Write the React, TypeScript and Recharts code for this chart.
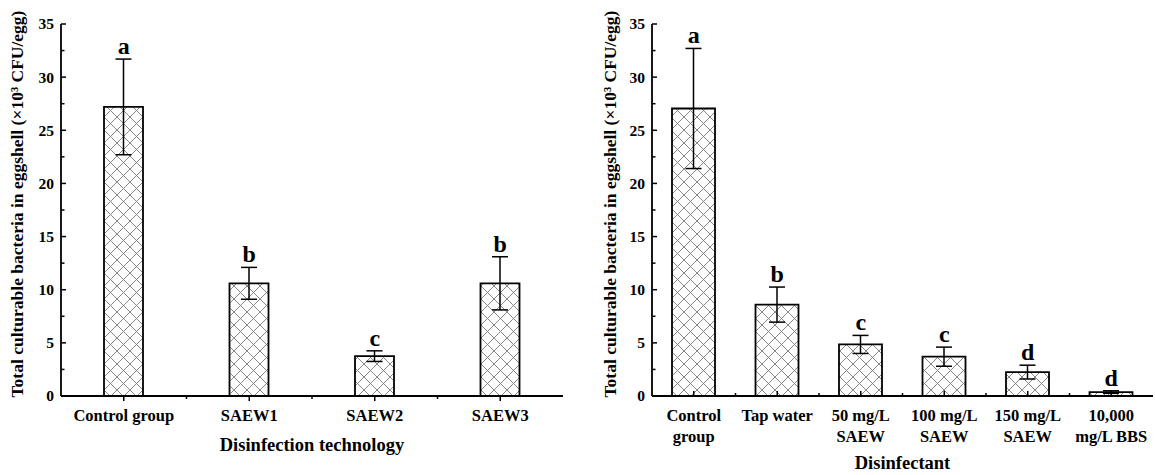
import React from 'react';
import { ComposedChart, Bar, Line, XAxis, YAxis, ErrorBar, LabelList, Label } from 'recharts';

const techCategories = ['Control group', 'SAEW1', 'SAEW2', 'SAEW3'];
const techMeans = [27.2, 10.6, 3.75, 10.6];
const techErrors = [4.5, 1.5, 0.5, 2.5];
const techLetters = ['a', 'b', 'c', 'b'];

const disCategories = ['Control\ngroup', 'Tap water', '50 mg/L\nSAEW', '100 mg/L\nSAEW', '150 mg/L\nSAEW', '10,000\nmg/L BBS'];
const disMeans = [27.05, 8.6, 4.85, 3.7, 2.25, 0.37];
const disErrors = [5.65, 1.65, 0.85, 0.9, 0.65, 0.12];
const disLetters = ['a', 'b', 'c', 'c', 'd', 'd'];

const yTicks = [0, 2.5, 5, 7.5, 10, 12.5, 15, 17.5, 20, 22.5, 25, 27.5, 30, 32.5, 35];
const yTitle = 'Total culturable bacteria in eggshell (×10³ CFU/egg)';

const FONT = '"Liberation Serif", "Times New Roman", serif';
const AXIS = { stroke: '#000', strokeWidth: 1.8 };

interface PanelProps {
  categories: string[];
  means: number[];
  errors: number[];
  letters: string[];
  xTitle: string;
  width: number;
  marginLeft: number;
  marginRight: number;
  yAxisWidth: number;
  barSize: number;
  titleX: number;
  xTitleDy: number;
  xTicksUp: boolean;
}

const Panel: React.FC<PanelProps> = ({
  categories, means, errors, letters, xTitle, width, marginLeft, marginRight,
  yAxisWidth, barSize, titleX, xTitleDy, xTicksUp,
}) => {
  const data = categories.map((name, i) => ({
    name,
    mean: means[i],
    err: errors[i],
    top: means[i] + errors[i],
    letter: letters[i],
  }));
  const plotW = width - marginLeft - marginRight - yAxisWidth;
  const band = plotW / categories.length;

  const renderYTick = (p: any) => {
    const v = p.payload.value;
    const major = v % 5 === 0;
    return (
      <g>
        <line x1={p.x} x2={p.x + (major ? 5 : 3.5)} y1={p.y} y2={p.y} stroke="#000" strokeWidth={1.5} />
        {major && (
          <text x={p.x - 7} y={p.y} dy="0.35em" textAnchor="end" fontFamily={FONT} fontWeight="bold" fontSize={15.5} fill="#000">
            {v}
          </text>
        )}
      </g>
    );
  };

  const renderXTick = (p: any) => {
    const lines = String(p.payload.value).split('\n');
    const last = p.index === categories.length - 1;
    const dir = xTicksUp ? -1 : 1;
    return (
      <g>
        <line x1={p.x} x2={p.x} y1={p.y} y2={p.y + dir * 5} stroke="#000" strokeWidth={1.5} />
        {!last && <line x1={p.x + band / 2} x2={p.x + band / 2} y1={p.y} y2={p.y + dir * 3} stroke="#000" strokeWidth={1.5} />}
        {lines.map((t, i) => (
          <text key={i} x={p.x} y={p.y + 19 + i * 21} dy="0.35em" textAnchor="middle" fontFamily={FONT} fontWeight="bold" fontSize={16.5} fill="#000">
            {t}
          </text>
        ))}
      </g>
    );
  };

  const renderYTitle = (p: any) => {
    const vb = p.viewBox;
    const cx = titleX;
    const cy = vb.y + vb.height / 2 - 6;
    return (
      <text x={cx} y={cy} transform={`rotate(-90, ${cx}, ${cy})`} textAnchor="middle" dominantBaseline="central" fontFamily={FONT} fontWeight="bold" fontSize={17.5} fill="#000">
        {yTitle}
      </text>
    );
  };

  const renderXTitle = (p: any) => {
    const vb = p.viewBox;
    return (
      <text x={vb.x + vb.width / 2} y={vb.y + xTitleDy} dy="0.35em" textAnchor="middle" fontFamily={FONT} fontWeight="bold" fontSize={18.5} fill="#000">
        {xTitle}
      </text>
    );
  };

  const renderLetter = (p: any) => (
    <text x={p.x} y={p.y - 5} textAnchor="middle" fontFamily={FONT} fontWeight="bold" fontSize={24} fill="#000">
      {p.value}
    </text>
  );

  return (
    <ComposedChart
      width={width}
      height={475}
      data={data}
      margin={{ top: 24, right: marginRight, left: marginLeft, bottom: 0 }}
    >
      <XAxis xAxisId="x" dataKey="name" height={79} interval={0} tickSize={0} tickMargin={0} tickLine={false} axisLine={AXIS} tick={renderXTick}>
        <Label content={renderXTitle} />
      </XAxis>
      <XAxis xAxisId="top" dataKey="name" orientation="top" height={0} tick={false} tickLine={false} axisLine={AXIS} />
      <YAxis yAxisId="y" type="number" domain={[0, 35]} ticks={yTicks} interval={0} width={yAxisWidth} tickSize={0} tickMargin={0} tickLine={false} axisLine={AXIS} tick={renderYTick}>
        <Label content={renderYTitle} />
      </YAxis>
      <YAxis yAxisId="right" orientation="right" type="number" domain={[0, 35]} width={0} tick={false} tickLine={false} axisLine={AXIS} />
      <Bar xAxisId="x" yAxisId="y" dataKey="mean" barSize={barSize} fill="url(#xhatch)" stroke="#000" strokeWidth={1.8} isAnimationActive={false}>
        <ErrorBar dataKey="err" direction="y" width={8} stroke="#000" strokeWidth={1.5} isAnimationActive={false} />
      </Bar>
      <Line xAxisId="x" yAxisId="y" dataKey="top" stroke="none" dot={false} activeDot={false} isAnimationActive={false}>
        <LabelList dataKey="letter" content={renderLetter} />
      </Line>
    </ComposedChart>
  );
};

export default function App() {
  return (
    <div style={{ position: 'absolute', left: 0, top: 0, width: 1155, height: 475, background: '#fff' }}>
      <svg width={0} height={0} style={{ position: 'absolute' }}>
        <defs>
          <pattern id="xhatch" patternUnits="userSpaceOnUse" width={13} height={13}>
            <rect width={13} height={13} fill="#fff" />
            <path d="M0,0 L13,13 M13,0 L0,13" stroke="#7a7a7a" strokeWidth={0.9} />
          </pattern>
        </defs>
      </svg>
      <div style={{ display: 'flex' }}>
        <Panel
          categories={techCategories}
          means={techMeans}
          errors={techErrors}
          letters={techLetters}
          xTitle="Disinfection technology"
          width={580}
          marginLeft={21}
          marginRight={17}
          yAxisWidth={40}
          barSize={39}
          titleX={17}
          xTitleDy={49}
          xTicksUp={false}
        />
        <Panel
          categories={disCategories}
          means={disMeans}
          errors={disErrors}
          letters={disLetters}
          xTitle="Disinfectant"
          width={575}
          marginLeft={22}
          marginRight={2}
          yAxisWidth={50}
          barSize={43}
          titleX={30}
          xTitleDy={67}
          xTicksUp={true}
        />
      </div>
    </div>
  );
}
